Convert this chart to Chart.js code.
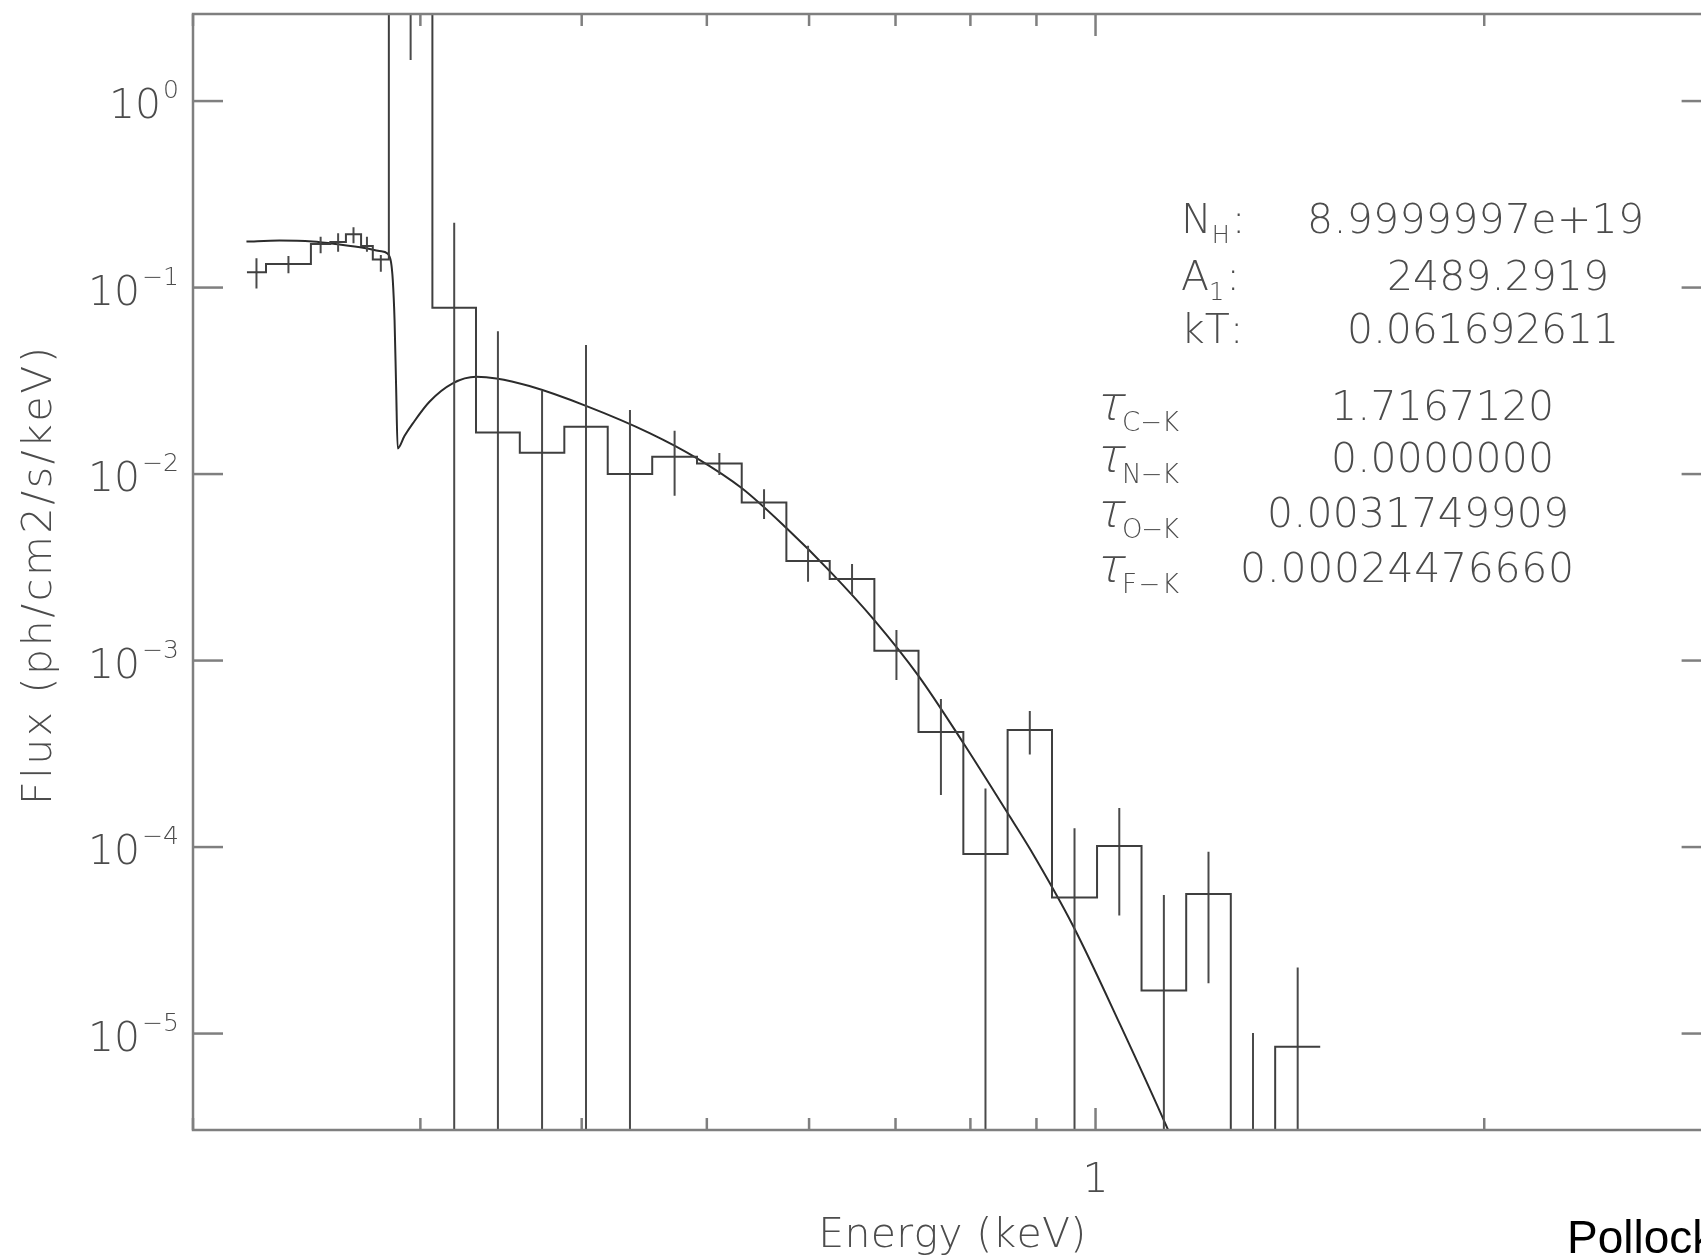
<!DOCTYPE html>
<html>
<head>
<meta charset="utf-8">
<title>Flux vs Energy</title>
<script src="https://cdn.jsdelivr.net/npm/chart.js@4.4.1/dist/chart.umd.min.js"></script>
<style>
  html, body { margin: 0; padding: 0; background: #ffffff; overflow: hidden; width: 1701px; height: 1259px; }
  #wrap { position: relative; width: 1740px; height: 1259px; }
  canvas { display: block; }
</style>
</head>
<body>
<div id="wrap"><canvas id="spec" width="1740" height="1259"></canvas></div>
<script>
// ---- spectrum: bin edges (keV), binned flux and error-bar ends (ph/cm2/s/keV) ----
const binEdges = [0.2202, 0.2278, 0.2468, 0.2555, 0.2627, 0.2699, 0.2756, 0.2836, 0.3065,
  0.3313, 0.3582, 0.3878, 0.4190, 0.4536, 0.4913, 0.5321, 0.5762, 0.6225, 0.6741,
  0.7293, 0.7900, 0.8549, 0.9253, 1.0027, 1.0855, 1.1755, 1.2728, 1.3776, 1.4928];
const binFlux = [0.1207, 0.1337, 0.1711, 0.1754, 0.1929, 0.1669, 0.1413, 4.4, 0.0779,
  0.01673, 0.0130, 0.01793, 0.0100, 0.01238, 0.01141, 0.00705, 0.00342, 0.002735, 0.001129,
  0.000414, 0.0000917, 0.000424, 0.0000537, 0.0001012, 0.0000170, 0.0000560, 0, 0.0000085];
const errBarLow = [0.0990, 0.1192, 0.1526, 0.1556, 0.1726, 0.1556, 0.1216, 1.66, 0,
  0, 0, 0, 0, 0.00765, 0.00988, 0.00574, 0.00265, 0.002245, 0.000786,
  0.000190, 0, 0.000314, 0, 0.0000430, 0, 0.0000186, 0, 0];
const errBarHigh = [0.1434, 0.1475, 0.1872, 0.1953, 0.2103, 0.1872, 0.1494, 7.1, 0.2226,
  0.0584, 0.0280, 0.0492, 0.02203, 0.01707, 0.01299, 0.00828, 0.00413, 0.00329, 0.001457,
  0.000622, 0.000206, 0.000536, 0.000126, 0.000162, 0.0000553, 0.0000945, 0.00001006, 0.0000226];

// ---- fitted model curve ----
const modelEnergy = [0.2200, 0.2333, 0.2475, 0.2597, 0.2715, 0.2789, 0.2829, 0.2847, 0.2856,
  0.2865, 0.2873, 0.2881, 0.2916, 0.2960, 0.3049, 0.3178, 0.3314, 0.3435, 0.3644, 0.4035,
  0.4515, 0.4910, 0.5320, 0.5762, 0.6225, 0.6740, 0.7295, 0.7900, 0.8549, 0.8898, 0.9615,
  1.0447, 1.1382, 1.1733];
const modelFlux = [0.1764, 0.1786, 0.1764, 0.1700, 0.1629, 0.1569, 0.1522, 0.1370, 0.1097,
  0.0670, 0.0294, 0.01373, 0.01599, 0.01870, 0.02442, 0.03064, 0.03323, 0.03258, 0.02964,
  0.02315, 0.01659, 0.01218, 0.008412, 0.005134, 0.003019, 0.001649, 0.0008256, 0.0003612,
  0.0001522, 0.0000976, 0.0000374, 0.0000112, 0.00000304, 0.00000185];

// ---- axes ----
const yDecades = [1, 0.1, 0.01, 0.001, 0.0001, 0.00001];
const yExponents = ['0', '\u22121', '\u22122', '\u22123', '\u22124', '\u22125'];
const xMajorTicks = [1];
const xMajorLabels = ['1'];
const xMinorTicks = [0.2, 0.3, 0.4, 0.5, 0.6, 0.7, 0.8, 0.9, 2, 3];
const xTitle = 'Energy (keV)';
const yTitle = 'Flux (ph/cm2/s/keV)';

// ---- fit parameters ----
const paramNames = ['N', 'A', 'kT'];
const paramSubs = ['H', '1', ''];
const paramValues = ['8.9999997e+19', '2489.2919', '0.061692611'];
const tauSubs = ['C\u2212K', 'N\u2212K', 'O\u2212K', 'F\u2212K'];
const tauValues = ['1.7167120', '0.0000000', '0.0031749909', '0.00024476660'];
const creditText = 'Pollock';

// values that fall below the plotted range are sent off the bottom edge
const OFF_SCALE = 1e-9;
const clampLow = v => (v > 0 ? v : OFF_SCALE);

// stepped histogram outline
const histPoints = [];
binFlux.forEach((f, i) => {
  histPoints.push({ x: binEdges[i], y: clampLow(f) });
  histPoints.push({ x: binEdges[i + 1], y: clampLow(f) });
});

// vertical error bars at the (log) centre of each bin
const errPoints = [];
binFlux.forEach((f, i) => {
  const xc = Math.sqrt(binEdges[i] * binEdges[i + 1]);
  errPoints.push({ x: xc, y: clampLow(errBarLow[i]) });
  errPoints.push({ x: xc, y: clampLow(errBarHigh[i]) });
  errPoints.push({ x: xc, y: null });
});

const modelPoints = modelEnergy.map((e, i) => ({ x: e, y: modelFlux[i] }));

const FRAME = '#7f7f7f';
const TEXT = '#4c4c4c';
const SANS = '"DejaVu Sans", "Liberation Sans", sans-serif';
const BIG = 41;

// draws text char by char so that it spans a given width (wide plotter lettering)
function drawSpaced(ctx, text, x0, baseline, width) {
  const chars = [...text];
  const w = chars.map(c => ctx.measureText(c).width);
  const natural = w.reduce((s, v) => s + v, 0);
  const gap = chars.length > 1 ? (width - natural) / (chars.length - 1) : 0;
  let x = x0;
  chars.forEach((c, i) => { ctx.fillText(c, x, baseline); x += w[i] + gap; });
}

const frameAndLabels = {
  id: 'frameAndLabels',
  afterDatasetsDraw(chart) {
    const { ctx, chartArea: a, scales: { x, y } } = chart;
    ctx.save();
    ctx.strokeStyle = FRAME;
    ctx.lineWidth = 2.5;
    ctx.lineCap = 'butt';
    ctx.strokeRect(a.left, a.top, a.right - a.left, a.bottom - a.top);

    const seg = (x1, y1, x2, y2) => { ctx.beginPath(); ctx.moveTo(x1, y1); ctx.lineTo(x2, y2); ctx.stroke(); };
    // decade ticks on the left and right edges
    yDecades.forEach(v => {
      const py = y.getPixelForValue(v);
      seg(a.left, py, a.left + 30, py);
      seg(a.right, py, a.right - 30, py);
    });
    // energy ticks on the bottom and top edges
    xMinorTicks.forEach(v => {
      const px = x.getPixelForValue(v);
      seg(px, a.bottom, px, a.bottom - 12);
      seg(px, a.top, px, a.top + 12);
    });
    xMajorTicks.forEach(v => {
      const px = x.getPixelForValue(v);
      seg(px, a.bottom, px, a.bottom - 22);
      seg(px, a.top, px, a.top + 22);
    });

    ctx.fillStyle = TEXT;
    ctx.textAlign = 'left';
    ctx.textBaseline = 'alphabetic';

    // y tick labels 10^n
    yDecades.forEach((v, i) => {
      const py = y.getPixelForValue(v);
      ctx.font = `200 25px ${SANS}`;
      const ew = ctx.measureText(yExponents[i]).width;
      const right = a.left - 14;
      ctx.fillText(yExponents[i], right - ew, py - 3);
      ctx.font = `200 ${BIG}px ${SANS}`;
      const tw = ctx.measureText('10').width;
      ctx.fillText('10', right - ew - 2 - tw, py + 17);
    });

    // x tick labels
    ctx.font = `200 ${BIG}px ${SANS}`;
    xMajorTicks.forEach((v, i) => {
      const px = x.getPixelForValue(v);
      const w = ctx.measureText(xMajorLabels[i]).width;
      ctx.fillText(xMajorLabels[i], px - w / 2, a.bottom + 62);
    });

    // axis titles
    const cx = (a.left + a.right) / 2;
    drawSpaced(ctx, xTitle, cx - 134, 1247, 268);
    ctx.save();
    ctx.translate(51, (a.top + a.bottom) / 2 + 4);
    ctx.rotate(-Math.PI / 2);
    drawSpaced(ctx, yTitle, -229, 0, 458);
    ctx.restore();

    // fit parameters
    const paramBase = [233, 290, 343];
    const paramLeft = [1307, 1387, 1347];
    const paramWidth = [337, 222, 272];
    paramNames.forEach((n, i) => {
      ctx.font = `200 ${BIG}px ${SANS}`;
      let xx = 1181;
      ctx.fillText(n, xx, paramBase[i]);
      xx += ctx.measureText(n).width;
      if (paramSubs[i]) {
        ctx.font = `200 24px ${SANS}`;
        ctx.fillText(paramSubs[i], xx, paramBase[i] + 10);
        xx += ctx.measureText(paramSubs[i]).width + 2;
      }
      ctx.font = `200 ${BIG}px ${SANS}`;
      ctx.fillText(':', xx, paramBase[i]);
      drawSpaced(ctx, paramValues[i], paramLeft[i], paramBase[i], paramWidth[i]);
    });

    const tauBase = [420, 472, 527, 582];
    const tauLeft = [1331, 1331, 1267, 1240];
    const tauWidth = [223, 223, 302, 334];
    tauSubs.forEach((s, i) => {
      // thin upright tau, sheared into an oblique form
      ctx.save();
      ctx.font = `200 47px ${SANS}`;
      ctx.translate(1094, tauBase[i]);
      ctx.transform(1, 0, -0.25, 1, 0, 0);
      ctx.fillText('\u03c4', 0, 0);
      ctx.restore();
      ctx.font = `200 26px ${SANS}`;
      drawSpaced(ctx, s, 1122, tauBase[i] + 11, 57);
      ctx.font = `200 ${BIG}px ${SANS}`;
      drawSpaced(ctx, tauValues[i], tauLeft[i], tauBase[i], tauWidth[i]);
    });

    // credit line
    ctx.fillStyle = '#000000';
    ctx.font = '46px "Liberation Sans", Arial, sans-serif';
    ctx.fillText(creditText, 1567, 1253);
    ctx.restore();
  }
};

new Chart(document.getElementById('spec'), {
  type: 'scatter',
  data: {
    datasets: [
      {
        label: 'data',
        data: histPoints,
        showLine: true,
        pointRadius: 0,
        borderColor: '#3f3f3f',
        borderWidth: 2,
        borderJoinStyle: 'miter',
        tension: 0,
        clip: 0
      },
      {
        label: 'errors',
        data: errPoints,
        showLine: true,
        spanGaps: false,
        pointRadius: 0,
        borderColor: '#4a4a4a',
        borderWidth: 2,
        tension: 0,
        clip: 0
      },
      {
        label: 'model',
        data: modelPoints,
        showLine: true,
        pointRadius: 0,
        borderColor: '#2b2b2b',
        borderWidth: 2,
        cubicInterpolationMode: 'monotone',
        clip: 0
      }
    ]
  },
  options: {
    responsive: false,
    animation: false,
    devicePixelRatio: 1,
    layout: { padding: { left: 193, top: 14, right: 1740 - 1711.6, bottom: 1259 - 1130 } },
    scales: {
      x: { type: 'logarithmic', min: 0.2, max: 3, display: false },
      y: { type: 'logarithmic', min: 3.04e-6, max: 2.93, display: false }
    },
    plugins: { legend: { display: false }, tooltip: { enabled: false } },
    events: []
  },
  plugins: [frameAndLabels]
});
</script>
</body>
</html>
